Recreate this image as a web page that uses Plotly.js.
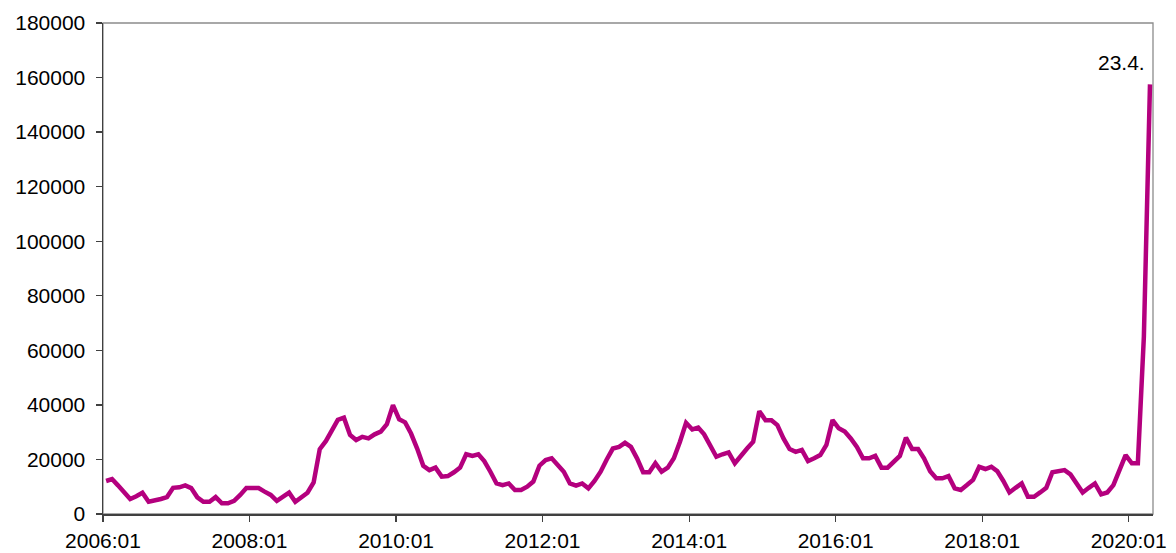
<!DOCTYPE html>
<html>
<head>
<meta charset="utf-8">
<script src="https://cdn.plot.ly/plotly-3.0.1.min.js"></script>
<style>html,body{margin:0;padding:0;background:#fff;}#chart{width:1176px;height:553px;}</style>
</head>
<body>
<div id="chart"></div>
<script>
// Monthly values, 2006:01 .. 2020:04 (last point = 23.4.)
const startYear = 2006;
const values = [
  12100, 12800, 10500, 8000, 5500, 6500, 7800, 4500, 4800, 5500, 6200, 9600,
  9800, 10500, 9500, 6100, 4500, 4500, 6200, 3900, 3900, 4800, 7000, 9500,
  9500, 9500, 8200, 7000, 4800, 6200, 7800, 4500, 6000, 7800, 11600, 23800,
  26800, 31000, 34500, 35300, 29000, 27100, 28300, 27700, 29200, 30200, 32900, 39900,
  34700, 33600, 29500, 24000, 17700, 16100, 17000, 13700, 13900, 15300, 17000, 21900,
  21300, 21900, 19400, 15500, 11200, 10600, 11200, 8800, 8800, 10000, 11900, 17700,
  19800, 20400, 18000, 15500, 11200, 10400, 11200, 9400, 12100, 15500, 20000, 24000,
  24600, 26100, 24600, 20400, 15300, 15300, 18600, 15500, 17000, 20400, 26500, 33400,
  31000, 31700, 29200, 25300, 21000, 21900, 22600, 18600, 21000, 24000, 26500, 37700,
  34400, 34400, 32600, 27700, 23800, 22800, 23500, 19400, 20400, 21600, 25300, 34400,
  31400, 30200, 27700, 24600, 20400, 20400, 21300, 17000, 17000, 19400, 21300, 28000,
  23800, 23800, 20400, 15700, 13100, 13100, 13900, 9400, 8800, 10600, 12500, 17300,
  16500, 17300, 15700, 12100, 7900, 9600, 11200, 6300, 6300, 7900, 9600, 15300,
  15500, 16100, 14500, 10900, 7900, 9600, 11200, 7200, 7900, 10600, 16100, 21600,
  18600, 18600, 65000, 157500
];
const lastLabel = "23.4.";
const yTicks = [0, 20000, 40000, 60000, 80000, 100000, 120000, 140000, 160000, 180000];

const months = values.map((v, i) => {
  const y = startYear + Math.floor(i / 12);
  const m = (i % 12) + 1;
  return y + "-" + String(m).padStart(2, "0");
});

const lineColor = "#B4007E";
const font = {family: "Liberation Sans, Arial, sans-serif", size: 21, color: "#000"};

const trace = {
  type: "scatter",
  mode: "lines",
  x: months,
  y: values,
  xperiod: "M1",
  xperiodalignment: "middle",
  line: {color: lineColor, width: 4.5},
  hoverinfo: "x+y"
};

const lastMonth = months[months.length - 1];
const layout = {
  width: 1176,
  height: 553,
  margin: {l: 103, r: 23, t: 23, b: 39},
  paper_bgcolor: "#fff",
  plot_bgcolor: "#fff",
  showlegend: false,
  font: font,
  xaxis: {
    type: "date",
    range: [months[0] + "-01", "2020-05-01"],
    tick0: months[0] + "-01",
    dtick: "M24",
    tickformat: "%Y:%m",
    showgrid: false,
    zeroline: false,
    showline: true,
    linecolor: "#404040",
    linewidth: 1.5,
    ticks: "outside",
    ticklen: 6,
    tickwidth: 1.3,
    tickcolor: "#404040",
    tickfont: font,
    ticklabelstandoff: 1,
    fixedrange: true
  },
  yaxis: {
    range: [0, 180000],
    tickvals: yTicks,
    tickformat: "d",
    showgrid: false,
    zeroline: false,
    showline: true,
    linecolor: "#404040",
    linewidth: 1.5,
    ticks: "outside",
    ticklen: 6,
    tickwidth: 1.3,
    tickcolor: "#404040",
    tickfont: font,
    ticklabelstandoff: 6,
    fixedrange: true
  },
  shapes: [{
    type: "rect", xref: "paper", yref: "paper", x0: 0, x1: 1, y0: 0, y1: 1,
    line: {color: "#8c8c8c", width: 1.3}, layer: "below"
  }],
  annotations: [{
    x: lastMonth + "-15",
    y: values[values.length - 1],
    xref: "x", yref: "y",
    text: lastLabel,
    showarrow: false,
    xanchor: "right",
    yanchor: "bottom",
    xshift: -3,
    yshift: 8,
    font: font
  }]
};

Plotly.newPlot("chart", [trace], layout, {displayModeBar: false, staticPlot: true});
</script>
</body>
</html>
